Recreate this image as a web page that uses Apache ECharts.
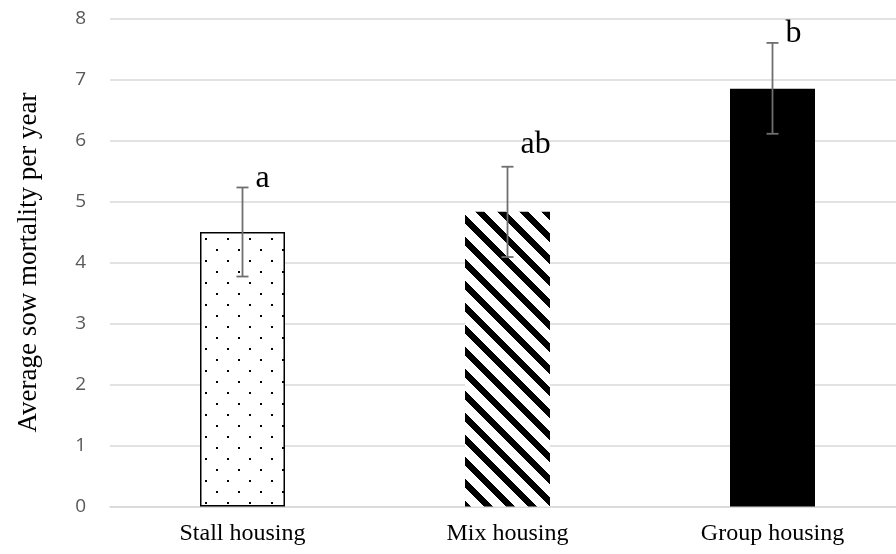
<!DOCTYPE html>
<html>
<head>
<meta charset="utf-8">
<script src="https://cdn.jsdelivr.net/npm/echarts@6/dist/echarts.min.js"></script>
<style>html,body{margin:0;padding:0;background:#fff}#c{width:896px;height:554px}</style>
</head>
<body>
<div id="c"></div>
<script>
var categories = ['Stall housing', 'Mix housing', 'Group housing'];
var means = [4.50, 4.83, 6.85];
var errUpper = [5.23, 5.57, 7.60];
var errLower = [3.77, 4.09, 6.11];
var letters = ['a', 'ab', 'b'];
var yTicks = [0, 1, 2, 3, 4, 5, 6, 7, 8];

function dotPattern() {
  var c = document.createElement('canvas');
  c.width = 22; c.height = 22;
  var g = c.getContext('2d');
  g.fillStyle = '#fff'; g.fillRect(0, 0, 22, 22);
  g.fillStyle = '#000';
  g.fillRect(7, 18, 2, 2);
  g.fillRect(18, 7, 2, 2);
  return c;
}
function stripePattern() {
  var P = 22, w = 9;
  var c = document.createElement('canvas');
  c.width = P; c.height = P;
  var g = c.getContext('2d');
  var img = g.createImageData(P, P);
  for (var y = 0; y < P; y++) {
    for (var x = 0; x < P; x++) {
      var k = (((x - y) % P) + P) % P;
      var v = k < w ? 0 : 255;
      var i = (y * P + x) * 4;
      img.data[i] = v; img.data[i+1] = v; img.data[i+2] = v; img.data[i+3] = 255;
    }
  }
  g.putImageData(img, 0, 0);
  return c;
}

var barStyles = [
  {color: {image: dotPattern(), repeat: 'repeat'}, borderColor: '#000', borderWidth: 1.5},
  {color: {image: stripePattern(), repeat: 'repeat'}, borderWidth: 0},
  {color: '#000', borderWidth: 0}
];

var chart = echarts.init(document.getElementById('c'), null, {renderer: 'canvas'});
chart.setOption({
  animation: false,
  backgroundColor: '#fff',
  grid: {left: 110, width: 795, top: 18.5, bottom: 47.5, containLabel: false, outerBoundsMode: 'none'},
  xAxis: {
    type: 'category',
    data: categories,
    axisLine: {show: true, lineStyle: {color: '#d9d9d9', width: 1.5}},
    axisTick: {show: false},
    axisLabel: {color: '#000', fontFamily: '"Liberation Serif", "Times New Roman", serif', fontSize: 24, margin: 15}
  },
  yAxis: {
    type: 'value',
    min: 0, max: 8, interval: 1,
    name: 'Average sow mortality per year',
    nameLocation: 'middle',
    nameGap: 68,
    nameRotate: 90,
    nameTextStyle: {color: '#000', fontFamily: '"Liberation Serif", "Times New Roman", serif', fontSize: 27},
    axisLine: {show: false},
    axisTick: {show: false},
    splitLine: {lineStyle: {color: '#d9d9d9', width: 1.5}},
    axisLabel: {color: '#595959', fontFamily: '"Open Sans", sans-serif', fontSize: 19, margin: 24,
      formatter: function (v) { return yTicks.indexOf(v) >= 0 ? String(v) : ''; }}
  },
  series: [
    {
      type: 'bar',
      barWidth: 85,
      data: means.map(function (v, i) { return {value: v, itemStyle: barStyles[i]}; })
    },
    {
      type: 'custom',
      z: 10,
      data: categories.map(function (c, i) { return [i, errUpper[i], errLower[i]]; }),
      renderItem: function (params, api) {
        var i = api.value(0);
        var top = api.coord([i, api.value(1)]);
        var bot = api.coord([i, api.value(2)]);
        var hw = 6;
        var ls = {stroke: '#6f6f6f', lineWidth: 1.8};
        return {
          type: 'group',
          children: [
            {type: 'line', shape: {x1: top[0], y1: top[1], x2: bot[0], y2: bot[1]}, style: ls},
            {type: 'line', shape: {x1: top[0] - hw, y1: top[1], x2: top[0] + hw, y2: top[1]}, style: ls},
            {type: 'line', shape: {x1: bot[0] - hw, y1: bot[1], x2: bot[0] + hw, y2: bot[1]}, style: ls},
            {type: 'text', style: {
              text: letters[params.dataIndex],
              x: top[0] + 13, y: top[1] + 7 - (params.dataIndex === 1 ? 13 : 0),
              fill: '#000', font: '32px "Liberation Serif", "Times New Roman", serif',
              align: 'left', verticalAlign: 'bottom'
            }}
          ]
        };
      }
    }
  ]
});
</script>
</body>
</html>
